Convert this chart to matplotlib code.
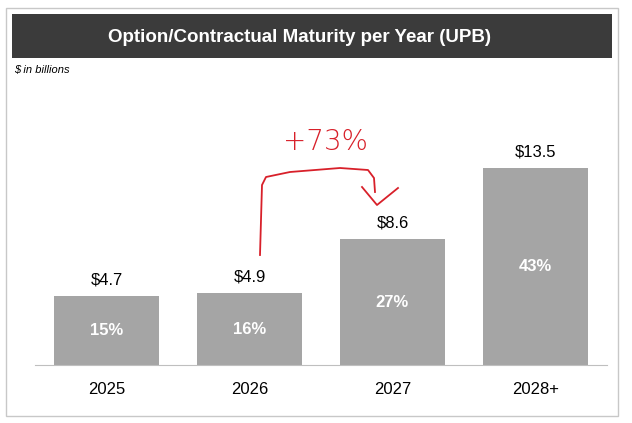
import matplotlib.pyplot as plt
from matplotlib.patches import Rectangle
import numpy as np

years = ['2025', '2026', '2027', '2028+']
upb = [4.7, 4.9, 8.6, 13.5]
shares = ['15%', '16%', '27%', '43%']

W, H = 632, 423
fig = plt.figure(figsize=(W / 100, H / 100), dpi=100)
fig.patch.set_facecolor('white')

def px(x, y):
    return x / W, 1 - y / H

# outer frame
fig.patches.append(Rectangle(px(6, 416), 612 / W, 408 / H, transform=fig.transFigure,
                             fill=False, edgecolor='#c8c8c8', linewidth=1))
# title banner
fig.patches.append(Rectangle(px(12, 58), 600 / W, 44 / H, transform=fig.transFigure,
                             facecolor='#3b3b3b', edgecolor='none'))
fig.text(*px(300, 37), 'Option/Contractual Maturity per Year (UPB)', color='white',
         fontsize=13.5, fontweight='bold', ha='center', va='center', family='Liberation Sans')
fig.text(*px(14, 70), '$ in billions', fontsize=8, style='italic', ha='left', va='center',
         family='Liberation Sans')

ax = fig.add_axes([35 / W, 1 - 365 / H, 572 / W, 265 / H])
x = np.arange(len(years))
ax.bar(x, upb, width=0.74, color='#a5a5a5')
ax.set_xlim(-0.5, 3.5)
ax.set_ylim(0, 265 / 14.6)
for s in ['top', 'right', 'left']:
    ax.spines[s].set_visible(False)
ax.spines['bottom'].set_color('#bfbfbf')
ax.set_yticks([])
ax.set_xticks(x)
ax.set_xticklabels(years, fontsize=12, family='Liberation Sans')
ax.tick_params(axis='x', length=0, pad=12)
for i, v in enumerate(upb):
    ax.text(i, v + 0.6, '$' + str(v), ha='center', va='bottom', fontsize=12, family='Liberation Sans')
    ax.text(i, v / 2, shares[i], ha='center', va='center', fontsize=12, color='white',
            fontweight='bold', family='Liberation Sans')

# hand-drawn annotation
red = '#d8202a'
path_x = [260, 261, 262, 266, 290, 340, 368, 374, 375]
path_y = [255, 220, 185, 177, 172, 168, 170, 178, 192]
fig.add_artist(plt.Line2D([p / W for p in path_x], [1 - p / H for p in path_y],
                          transform=fig.transFigure, color=red, linewidth=1.3))
ah_x = [362, 377, 398]
ah_y = [187, 205, 188]
fig.add_artist(plt.Line2D([p / W for p in ah_x], [1 - p / H for p in ah_y],
                          transform=fig.transFigure, color=red, linewidth=1.3))
fig.text(*px(325, 142), '+73%', color=red, fontsize=20, ha='center', va='center',
         family='DejaVu Sans', fontweight='light')

fig.savefig('out.png', dpi=100)
